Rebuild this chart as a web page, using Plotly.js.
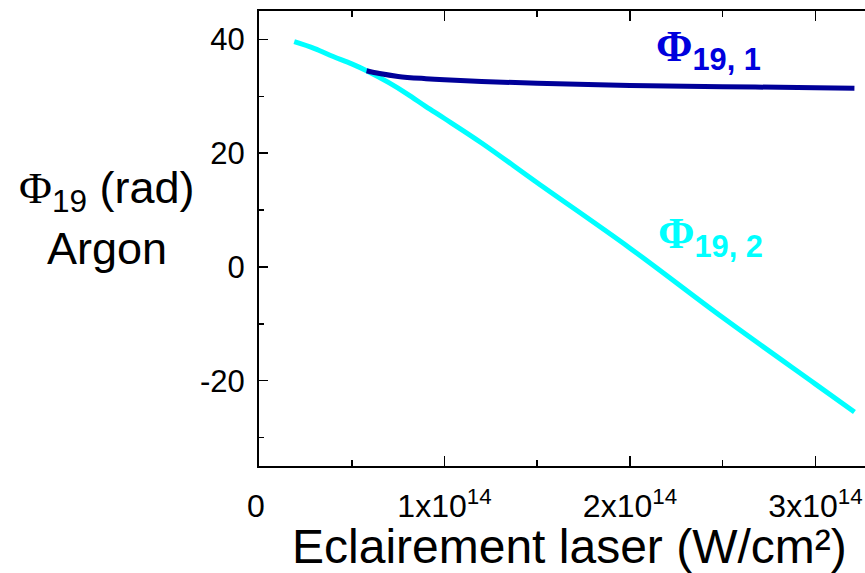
<!DOCTYPE html>
<html>
<head>
<meta charset="utf-8">
<script src="https://cdn.plot.ly/plotly-3.0.1.min.js"></script>
<style>html,body{margin:0;padding:0;background:#fff;}#chart{width:865px;height:573px;}</style>
</head>
<body>
<div id="chart"></div>
<script>
// Laser intensity (W/cm²) and phase values (rad)
const phi2_x = [0.19e14, 0.3e14, 0.4e14, 0.5e14, 0.58e14, 0.7e14, 0.8e14, 0.9e14, 1.0e14, 1.2e14, 1.5e14, 2.0e14, 2.5e14, 3.0e14, 3.21e14];
const phi2_y = [39.6, 38.4, 37.0, 35.7, 34.5, 32.4, 30.4, 28.2, 26.1, 21.8, 14.8, 3.3, -8.9, -20.6, -25.5];
const phi1_x = [0.58e14, 0.65e14, 0.75e14, 0.9e14, 1.0e14, 1.2e14, 1.5e14, 2.0e14, 2.5e14, 3.0e14, 3.21e14];
const phi1_y = [34.5, 34.0, 33.5, 33.1, 32.9, 32.6, 32.3, 31.9, 31.7, 31.5, 31.4];
const xTickVals = [0, 1e14, 2e14, 3e14];
const xTickText = ['0<sup> </sup>', '1x10<sup>14</sup>', '2x10<sup>14</sup>', '3x10<sup>14</sup>'];
const yTickVals = [-20, 0, 20, 40];
const yTickText = ['-20', '0', '20', '40'];

const SANS = 'Liberation Sans, Arial, sans-serif';

const traces = [
  {x: phi2_x, y: phi2_y, mode: 'lines', line: {color: '#00FFFF', width: 5, shape: 'spline'}, showlegend: false, hoverinfo: 'skip'},
  {x: phi1_x, y: phi1_y, mode: 'lines', line: {color: '#000099', width: 5, shape: 'spline'}, showlegend: false, hoverinfo: 'skip'}
];

const layout = {
  width: 865, height: 573,
  margin: {l: 259, r: 0, t: 11, b: 107},
  paper_bgcolor: '#fff', plot_bgcolor: '#fff',
  font: {family: SANS, color: '#000'},
  xaxis: {
    range: [0, 3.267e14], showgrid: false, zeroline: false,
    showline: true, linecolor: '#000', linewidth: 2, mirror: 'ticks',
    ticks: 'inside', ticklen: 10, tickwidth: 1.5, tickcolor: '#000',
    tickvals: xTickVals, ticktext: xTickText,
    tickfont: {family: SANS, size: 32, color: '#000'},
    ticklabelstandoff: 11,
    minor: {dtick: 0.5e14, ticks: 'inside', ticklen: 6, tickwidth: 1.5, tickcolor: '#000', showgrid: false}
  },
  yaxis: {
    range: [-35, 45], showgrid: false, zeroline: false,
    showline: true, linecolor: '#000', linewidth: 2, mirror: false,
    ticks: 'inside', ticklen: 9, tickwidth: 1.5, tickcolor: '#000',
    tickvals: yTickVals, ticktext: yTickText,
    tickfont: {family: SANS, size: 31, color: '#000'},
    ticklabelstandoff: 6,
    minor: {dtick: 10, ticks: 'inside', ticklen: 5, tickwidth: 1.5, tickcolor: '#000', showgrid: false}
  },
  annotations: [
    {xref: 'paper', yref: 'paper', x: 0.513, y: -0.178, xanchor: 'center', yanchor: 'middle', showarrow: false,
     text: 'Eclairement laser (W/cm²)', font: {family: SANS, size: 48, color: '#000'}},
    {xref: 'paper', yref: 'paper', x: -0.251, y: 0.605, xanchor: 'center', yanchor: 'middle', showarrow: false,
     text: '<span style="font-family:Liberation Serif">Φ</span><sub>19</sub> (rad)', font: {family: SANS, size: 45, color: '#000'}},
    {xref: 'paper', yref: 'paper', x: -0.251, y: 0.477, xanchor: 'center', yanchor: 'middle', showarrow: false,
     text: 'Argon', font: {family: SANS, size: 45, color: '#000'}},
    {xref: 'x', yref: 'y', x: 2.13e14, y: 38.3, xanchor: 'left', yanchor: 'middle', showarrow: false,
     text: '<b><span style="font-family:Liberation Serif">Φ</span><sub>19, 1</sub></b>', font: {family: SANS, size: 44, color: '#0000DD'}},
    {xref: 'x', yref: 'y', x: 2.14e14, y: 5.3, xanchor: 'left', yanchor: 'middle', showarrow: false,
     text: '<b><span style="font-family:Liberation Serif">Φ</span><sub>19, 2</sub></b>', font: {family: SANS, size: 44, color: '#00FFFF'}}
  ]
};

Plotly.newPlot('chart', traces, layout, {staticPlot: true, displayModeBar: false});
</script>
</body>
</html>
